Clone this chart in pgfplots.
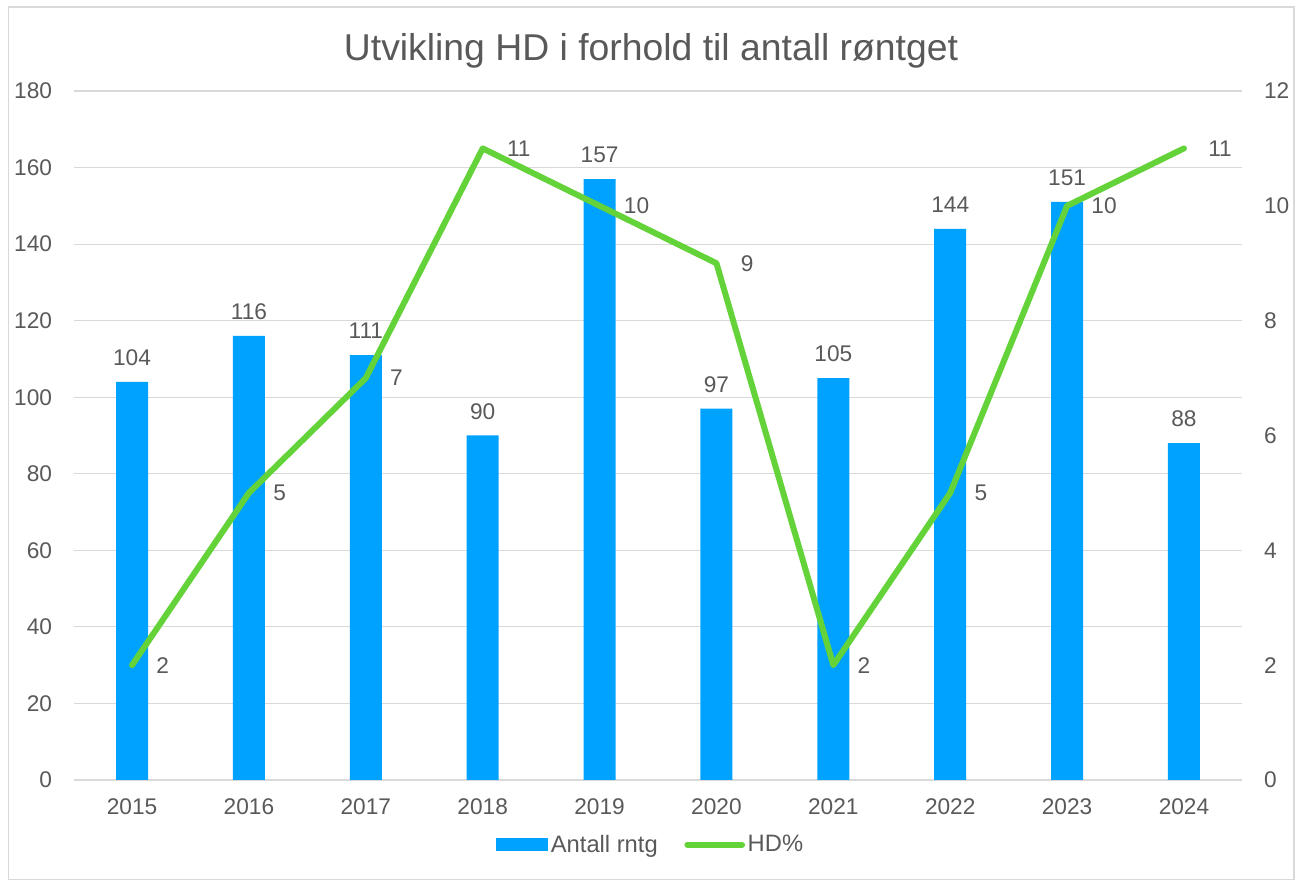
\documentclass[border=0pt]{standalone}
\usepackage{pgfplots}
\pgfplotsset{compat=1.18}
\usepackage{fontspec}
\setmainfont{Liberation Sans}
\definecolor{barblue}{RGB}{0,162,255}
\definecolor{linegreen}{RGB}{99,211,57}
\definecolor{txt}{RGB}{89,89,89}
\definecolor{gridc}{RGB}{217,217,217}
\newcommand{\lbl}{\fontsize{17}{20}\selectfont}
\begin{document}
\begin{tikzpicture}
\path[use as bounding box] (0pt,0pt) rectangle (979.5pt,660pt);
\draw[gridc, line width=1.2pt] (6.4pt,0pt) -- (6.4pt,654.75pt) -- (970.5pt,654.75pt) -- (970.5pt,0pt) -- cycle;
\node[txt, font=\fontsize{28}{33}\selectfont] at (488.25pt,622pt) {Utvikling HD i forhold til antall røntget};
\begin{axis}[
  at={(55.2pt,75pt)}, anchor=south west,
  scale only axis, width=876.6pt, height=516.75pt,
  xmin=-0.5, xmax=9.5, ymin=0, ymax=180,
  xtick={0,...,9}, xticklabels={2015,2016,2017,2018,2019,2020,2021,2022,2023,2024},
  ytick={0,20,...,180},
  ymajorgrids, grid style={gridc, line width=0.9pt},
  axis x line=bottom, axis y line=left,
  y axis line style={draw=none},
  x axis line style={gridc, line width=0.9pt, -},
  major tick length=0pt, tick style={draw=none},
  tick label style={font=\lbl, color=txt, inner sep=0pt},
  /pgf/number format/assume math mode=true,
  xticklabel shift=14pt, yticklabel shift=16pt,
  legend style={at={(0.494,-0.094)}, anchor=center, draw=none, fill=none, font=\fontsize{17.8}{21}\selectfont, text=txt,
    legend columns=2, /tikz/every even column/.append style={column sep=18pt},
    nodes={inner sep=2pt}},
  legend cell align=left,
]
\addplot[ybar, bar width=24pt, fill=barblue, draw=none,
  nodes near coords, every node near coord/.append style={font=\lbl, color=txt, anchor=south, inner sep=0pt, yshift=12pt},
  legend image code/.code={\fill[barblue] (0pt,-5pt) rectangle (39pt,5pt);}]
  coordinates {(0,104) (1,116) (2,111) (3,90) (4,157) (5,97) (6,105) (7,144) (8,151) (9,88)};
\addlegendentry{Antall rntg}
\addlegendimage{legend image code/.code={\draw[linegreen, line width=4.5pt, line cap=round] (0pt,0pt) -- (41pt,0pt);}}
\addlegendentry{HD\%}
\end{axis}
\begin{axis}[
  at={(55.2pt,75pt)}, anchor=south west,
  scale only axis, width=876.6pt, height=516.75pt,
  xmin=-0.5, xmax=9.5, ymin=0, ymax=12,
  ytick={0,2,...,12},
  axis y line*=right, axis x line=none,
  y axis line style={draw=none},
  major tick length=0pt, tick style={draw=none},
  tick label style={font=\lbl, color=txt, inner sep=0pt},
  /pgf/number format/assume math mode=true,
  yticklabel shift=16pt,
]
\addplot[linegreen, line width=4.5pt, line cap=round, line join=round, mark=none,
  nodes near coords, every node near coord/.append style={font=\lbl, color=txt, anchor=west, inner sep=0pt, xshift=16pt, yshift=0pt}]
  coordinates {(0,2) (1,5) (2,7) (3,11) (4,10) (5,9) (6,2) (7,5) (8,10) (9,11)};
\end{axis}
\end{tikzpicture}
\end{document}
